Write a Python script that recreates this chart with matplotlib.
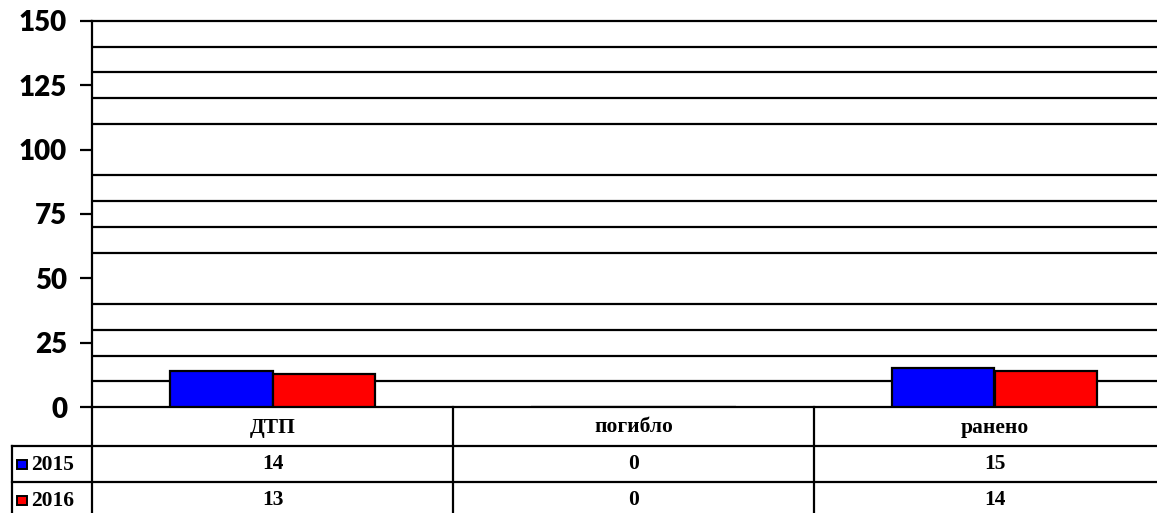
import numpy as np
import matplotlib.pyplot as plt
from matplotlib.patches import Rectangle

# --- dane ---
kategorie = ["ДТП", "погибло", "ранено"]
lata = ["2015", "2016"]
wartosci_2015 = [14, 0, 15]
wartosci_2016 = [13, 0, 14]
kolory = ["#0000FF", "#FF0000"]

W, H = 1157, 513
fig = plt.figure(figsize=(W / 100, H / 100), dpi=100)

# geometria w pikselach
x0, y_top, y_zero = 92, 21, 407
kol = 361  # szerokosc kolumny tabeli
x_end = x0 + 3 * kol

ax = fig.add_axes([x0 / W, 1 - y_zero / H, (x_end - x0) / W, (y_zero - y_top) / H])
x = np.arange(len(kategorie))
szer = 0.285
ax.bar(x - szer / 2, wartosci_2015, szer, color=kolory[0], edgecolor="black", linewidth=1.6, zorder=3)
ax.bar(x + szer / 2, wartosci_2016, szer, color=kolory[1], edgecolor="black", linewidth=1.6, zorder=3)
ax.set_xlim(-0.5, 2.5)
ax.set_ylim(0, 150)
ax.set_yticks(range(0, 151, 25))
ax.set_yticks(range(0, 151, 10), minor=True)
ax.tick_params(axis="y", which="major", length=9, width=1.6, pad=9)
ax.tick_params(axis="y", which="minor", length=0)
ax.set_xticks([])
ax.yaxis.grid(True, which="minor", color="black", linewidth=1.6)
ax.set_axisbelow(True)
for lab in ax.get_yticklabels():
    lab.set_fontfamily("Lato")
    lab.set_fontweight("heavy")
    lab.set_fontsize(20)
for s in ["left", "bottom", "top"]:
    ax.spines[s].set_linewidth(1.6)
ax.spines["right"].set_visible(False)

# --- tabela danych ---
xl = 12
h1, h2 = 39, 36
tb_bottom = y_zero + h1 + 2 * h2
tx = fig.add_axes([xl / W, 1 - tb_bottom / H, (x_end - xl) / W, (tb_bottom - y_zero) / H])
tx.set_xlim(-0.5 - (x0 - xl) / kol, 2.5)
tx.set_ylim(tb_bottom - y_zero, 0)
tx.axis("off")
lw = 1.6
lewa = -0.5 - (x0 - xl) / kol
# linie pionowe
for i in range(4):
    tx.plot([-0.5 + i, -0.5 + i], [0, h1 + 2 * h2], color="black", lw=lw, clip_on=False)
tx.plot([lewa, lewa], [h1, h1 + 2 * h2], color="black", lw=lw, clip_on=False)
# linie poziome
for yy in [h1, h1 + h2]:
    tx.plot([lewa, 2.5], [yy, yy], color="black", lw=lw, clip_on=False)

serif = dict(family="Liberation Serif", fontweight="bold", fontsize=15.5)
for i, k in enumerate(kategorie):
    tx.text(i, h1 / 2 + 1, k, ha="center", va="center", **serif)
wiersze = [wartosci_2015, wartosci_2016]
for r, (rok, vals) in enumerate(zip(lata, wiersze)):
    yc = h1 + h2 * r + h2 / 2
    for i, v in enumerate(vals):
        tx.text(i, yc, str(v), ha="center", va="center", **serif)
    tx.text(lewa + 19 / kol, yc + 1, rok, ha="left", va="center", **serif)
    tx.add_patch(Rectangle((lewa + 5 / kol, yc - 4), 10 / kol, 9,
                           facecolor=kolory[r], edgecolor="black", lw=1.4, clip_on=False))

fig.savefig("out.png", dpi=100)
